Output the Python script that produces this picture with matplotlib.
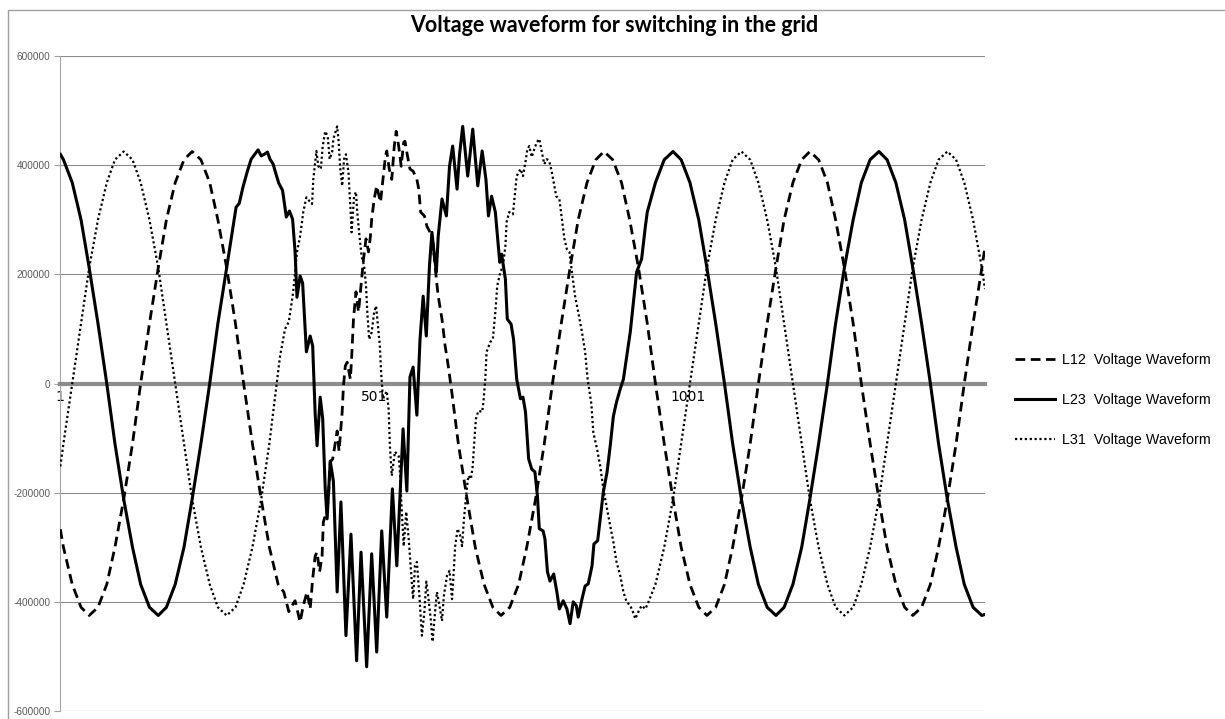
import matplotlib
matplotlib.use("Agg")
import matplotlib.pyplot as plt
from matplotlib.patches import Rectangle

# sample number (x) and voltage (V), one pair of lists per line
l12_x = [
    1, 6, 20, 34, 47, 61, 75, 88, 102, 116,
    129, 143, 157, 170, 184, 198, 211, 225, 239, 252,
    266, 280, 293, 307, 321, 334, 348, 357, 365, 370,
    375, 383, 388, 394, 399, 403, 407, 410, 414, 418,
    420, 425, 428, 431, 435, 442, 445, 450, 452, 455,
    458, 463, 465, 468, 472, 476, 480, 484, 488, 492,
    495, 497, 501, 505, 511, 515, 519, 521, 525, 529,
    533, 536, 540, 544, 548, 550, 554, 558, 563, 569,
    572, 575, 581, 585, 590, 595, 600, 603, 609, 614,
    619, 625, 635, 649, 662, 676, 690, 703, 717, 731,
    744, 758, 772, 785, 799, 813, 826, 840, 854, 867,
    881, 895, 908, 922, 936, 949, 963, 977, 990, 1004,
    1018, 1031, 1045, 1059, 1072, 1086, 1100, 1113, 1127, 1141,
    1154, 1168, 1182, 1195, 1209, 1223, 1236, 1250, 1264, 1277,
    1291, 1305, 1318, 1332, 1346, 1359, 1373, 1387, 1400, 1414,
    1428, 1441, 1455, 1469, 1474]
l12_v = [
    -267000, -300000, -368000, -410000, -425000, -410000, -368000, -300000, -212000, -110000,
    0, 110000, 212000, 300000, 368000, 410000, 425000, 410000, 368000, 300000,
    212000, 110000, 0, -110000, -212000, -300000, -368000, -382000, -418000, -407000,
    -398000, -437000, -407000, -382000, -413000, -358000, -316000, -309000, -345000, -316000,
    -254000, -235000, -211000, -144000, -138000, -87000, -124000, -52000, -5000, 32000,
    39000, 8000, 45000, 118000, 168000, 131000, 179000, 228000, 265000, 241000,
    270000, 301000, 338000, 362000, 332000, 374000, 417000, 426000, 393000, 374000,
    435000, 462000, 435000, 398000, 442000, 444000, 417000, 393000, 389000, 374000,
    356000, 314000, 307000, 288000, 277000, 255000, 191000, 160000, 118000, 69000,
    32000, -19000, -110000, -212000, -300000, -368000, -410000, -425000, -410000, -368000,
    -300000, -212000, -110000, 0, 110000, 212000, 300000, 368000, 410000, 425000,
    410000, 368000, 300000, 212000, 110000, 0, -110000, -212000, -300000, -368000,
    -410000, -425000, -410000, -368000, -300000, -212000, -110000, 0, 110000, 212000,
    300000, 368000, 410000, 425000, 410000, 368000, 300000, 212000, 110000, 0,
    -110000, -212000, -300000, -368000, -410000, -425000, -410000, -368000, -300000, -212000,
    -110000, 0, 110000, 212000, 250000]

l23_x = [
    1, 6, 20, 34, 47, 61, 75, 88, 102, 116,
    129, 143, 157, 170, 184, 198, 211, 225, 239, 252,
    266, 281, 286, 292, 299, 305, 312, 316, 321, 326,
    331, 335, 340, 345, 349, 355, 358, 361, 366, 371,
    375, 378, 383, 387, 393, 399, 403, 407, 410, 415,
    419, 423, 426, 431, 436, 442, 448, 456, 464, 473,
    480, 489, 497, 505, 513, 521, 530, 537, 547, 553,
    558, 563, 569, 574, 579, 584, 589, 593, 597, 600,
    603, 609, 616, 621, 626, 633, 637, 642, 650, 658,
    666, 673, 679, 683, 688, 694, 701, 704, 710, 713,
    719, 723, 728, 734, 738, 742, 747, 752, 757, 761,
    764, 770, 773, 777, 781, 787, 792, 796, 802, 808,
    813, 818, 823, 826, 832, 837, 842, 848, 851, 857,
    861, 866, 872, 877, 882, 887, 893, 898, 909, 919,
    927, 933, 936, 949, 963, 977, 990, 1004, 1018, 1031,
    1045, 1059, 1072, 1086, 1100, 1113, 1127, 1141, 1154, 1168,
    1182, 1195, 1209, 1223, 1236, 1250, 1264, 1277, 1291, 1305,
    1318, 1332, 1346, 1359, 1373, 1387, 1400, 1414, 1428, 1441,
    1455, 1469, 1474]
l23_v = [
    420000, 410000, 368000, 300000, 212000, 110000, 0, -110000, -212000, -300000,
    -368000, -410000, -425000, -410000, -368000, -300000, -212000, -110000, 0, 110000,
    212000, 323000, 330000, 360000, 389000, 411000, 422000, 428000, 417000, 420000,
    424000, 411000, 402000, 382000, 367000, 354000, 329000, 305000, 316000, 301000,
    241000, 158000, 197000, 184000, 58000, 87000, 69000, -56000, -114000, -25000,
    -65000, -193000, -248000, -142000, -179000, -382000, -217000, -462000, -276000, -508000,
    -309000, -519000, -312000, -492000, -270000, -428000, -193000, -334000, -83000, -197000,
    12000, 30000, -58000, 81000, 160000, 87000, 215000, 277000, 233000, 204000,
    270000, 338000, 307000, 398000, 435000, 356000, 420000, 471000, 380000, 466000,
    362000, 426000, 374000, 307000, 343000, 314000, 222000, 237000, 191000, 118000,
    109000, 81000, 8000, -28000, -25000, -52000, -138000, -157000, -162000, -206000,
    -266000, -270000, -285000, -345000, -362000, -349000, -382000, -413000, -398000, -413000,
    -440000, -400000, -407000, -428000, -395000, -371000, -367000, -334000, -294000, -288000,
    -248000, -199000, -162000, -114000, -60000, -34000, -10000, 8000, 95000, 204000,
    228000, 288000, 314000, 368000, 410000, 425000, 410000, 368000, 300000, 212000,
    110000, 0, -110000, -212000, -300000, -368000, -410000, -425000, -410000, -368000,
    -300000, -212000, -110000, 0, 110000, 212000, 300000, 368000, 410000, 425000,
    410000, 368000, 300000, 212000, 110000, 0, -110000, -212000, -300000, -368000,
    -410000, -425000, -423000]

l31_x = [
    1, 6, 20, 34, 47, 61, 75, 88, 102, 116,
    129, 143, 157, 170, 184, 198, 211, 225, 239, 252,
    266, 280, 293, 307, 321, 334, 351, 359, 365, 368,
    372, 375, 378, 383, 388, 393, 398, 402, 404, 409,
    412, 416, 419, 423, 427, 430, 434, 436, 442, 444,
    447, 450, 453, 456, 460, 463, 465, 469, 472, 474,
    478, 481, 485, 488, 490, 493, 497, 501, 504, 506,
    510, 512, 515, 521, 524, 526, 529, 534, 540, 542,
    545, 548, 552, 556, 559, 563, 566, 569, 573, 577,
    581, 584, 587, 591, 594, 598, 601, 605, 609, 612,
    617, 621, 625, 627, 630, 634, 638, 641, 644, 649,
    651, 655, 658, 660, 663, 667, 673, 675, 678, 680,
    686, 690, 694, 697, 702, 706, 710, 712, 716, 722,
    726, 728, 734, 738, 742, 745, 748, 752, 756, 760,
    764, 768, 772, 776, 780, 784, 788, 791, 796, 800,
    804, 808, 812, 816, 821, 826, 832, 837, 841, 847,
    850, 856, 861, 866, 872, 877, 882, 887, 893, 898,
    903, 909, 913, 917, 922, 927, 933, 938, 949, 963,
    977, 990, 1004, 1018, 1031, 1045, 1059, 1072, 1086, 1100,
    1113, 1127, 1141, 1154, 1168, 1182, 1195, 1209, 1223, 1236,
    1250, 1264, 1277, 1291, 1305, 1318, 1332, 1346, 1359, 1373,
    1387, 1400, 1414, 1428, 1441, 1455, 1469, 1474]
l31_v = [
    -152000, -110000, 0, 110000, 212000, 300000, 368000, 410000, 425000, 410000,
    368000, 300000, 212000, 110000, 0, -110000, -212000, -300000, -368000, -410000,
    -425000, -410000, -368000, -300000, -212000, -110000, 50000, 100000, 113000, 136000,
    168000, 204000, 241000, 270000, 314000, 341000, 334000, 329000, 374000, 426000,
    398000, 393000, 435000, 462000, 453000, 411000, 424000, 448000, 471000, 448000,
    393000, 362000, 411000, 420000, 387000, 325000, 277000, 343000, 351000, 314000,
    265000, 233000, 215000, 179000, 131000, 81000, 94000, 131000, 142000, 118000,
    69000, 21000, -28000, -14000, -47000, -114000, -169000, -125000, -133000, -162000,
    -235000, -298000, -235000, -285000, -334000, -395000, -334000, -327000, -389000, -462000,
    -418000, -363000, -389000, -431000, -473000, -418000, -382000, -407000, -435000, -389000,
    -352000, -343000, -395000, -358000, -298000, -266000, -279000, -298000, -248000, -188000,
    -169000, -175000, -151000, -114000, -65000, -50000, -52000, -34000, 8000, 58000,
    76000, 81000, 131000, 179000, 204000, 215000, 252000, 296000, 314000, 310000,
    356000, 380000, 393000, 380000, 406000, 429000, 435000, 415000, 429000, 442000,
    448000, 424000, 402000, 411000, 407000, 387000, 362000, 343000, 338000, 301000,
    265000, 246000, 241000, 204000, 160000, 131000, 94000, 58000, 8000, -38000,
    -89000, -120000, -151000, -193000, -230000, -261000, -290000, -327000, -352000, -382000,
    -400000, -407000, -418000, -431000, -418000, -407000, -413000, -400000, -368000, -300000,
    -212000, -110000, 0, 110000, 212000, 300000, 368000, 410000, 425000, 410000,
    368000, 300000, 212000, 110000, 0, -110000, -212000, -300000, -368000, -410000,
    -425000, -410000, -368000, -300000, -212000, -110000, 0, 110000, 212000, 300000,
    368000, 410000, 425000, 410000, 368000, 300000, 212000, 173000]

series_names = ["L12  Voltage Waveform", "L23  Voltage Waveform", "L31  Voltage Waveform"]
x_ticks = [1, 501, 1001]
x_labels = ["1", "501", "1001"]
y_ticks = [-600000, -400000, -200000, 0, 200000, 400000, 600000]
y_labels = ["-600000", "-400000", "-200000", "0", "200000", "400000", "600000"]
title = "Voltage waveform for switching in the grid"

W, H = 1225, 719
fig = plt.figure(figsize=(W / 100, H / 100), dpi=100)
ax = fig.add_axes([60 / W, 1 - 711 / H, 925 / W, 655 / H])

ax.plot(l12_x, l12_v, color="black", lw=2.0, dashes=(3.5, 2.0), label=series_names[0], zorder=3)
ax.plot(l23_x, l23_v, color="black", lw=2.2, label=series_names[1], zorder=3)
ax.plot(l31_x, l31_v, color="black", lw=1.6, dashes=(1.0, 1.2), label=series_names[2], zorder=3)

ax.set_xlim(0.5, 1474)
ax.set_ylim(-600000, 600000)

# gridlines and axes, Excel look
ax.set_yticks(y_ticks)
ax.set_yticklabels(y_labels, fontsize=7.2, color="#595959", family=["Liberation Sans", "DejaVu Sans"])
ax.yaxis.grid(True, color="#8c8c8c", lw=0.8)
ax.set_axisbelow(True)
ax.tick_params(axis="y", length=4, width=0.8, color="#a0a0a0", pad=3)

ax.set_xticks(x_ticks)
ax.set_xticklabels(x_labels, fontsize=7.2, color="#595959", family=["Liberation Sans", "DejaVu Sans"])
ax.tick_params(axis="x", length=0, pad=5)

ax.spines["top"].set_visible(False)
ax.spines["right"].set_visible(False)
ax.spines["left"].set_color("#a6a6a6")
ax.spines["left"].set_linewidth(0.8)
ax.spines["bottom"].set_position(("data", 0))
ax.spines["bottom"].set_color("#8c8c8c")
ax.spines["bottom"].set_linewidth(3)

fig.text(614 / W, 1 - 26 / H, title, ha="center", va="center",
         fontsize=15.5, fontweight="bold", family=["Lato", "DejaVu Sans"])

leg = fig.legend(loc="center left", bbox_to_anchor=(1015 / W, 1 - 400 / H),
                 frameon=False, borderpad=0, borderaxespad=0,
                 handlelength=2.8, handletextpad=0.5, labelspacing=1.85,
                 prop={"family": ["Liberation Sans", "DejaVu Sans"], "size": 10.3})

# chart area border
fig.add_artist(Rectangle((8 / W, -0.1), 1.2, 1 - 10 / H + 0.1, transform=fig.transFigure,
                         fill=False, ec="#a0a0a0", lw=1))

fig.savefig("out.png", dpi=100)
